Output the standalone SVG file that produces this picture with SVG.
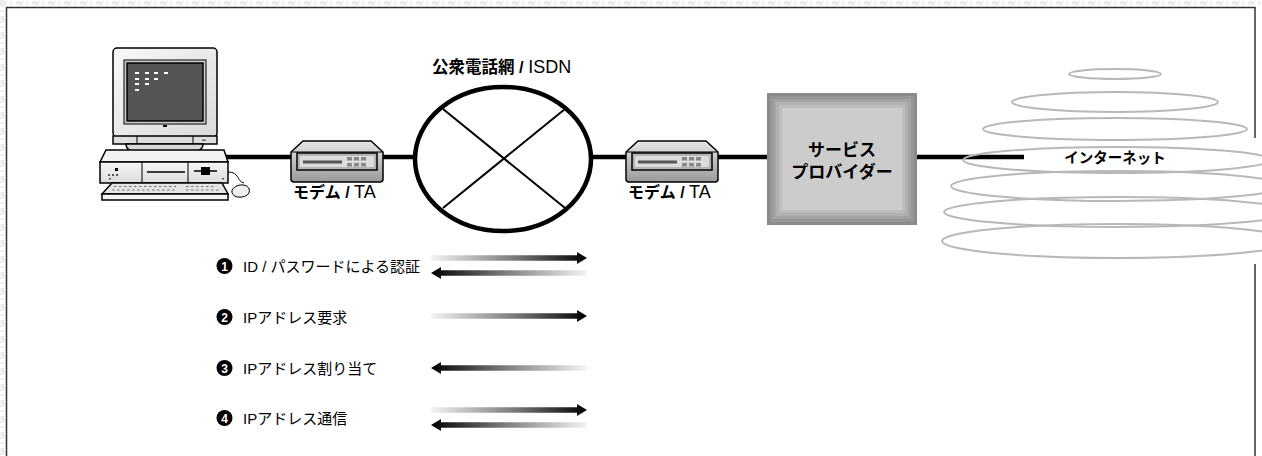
<svg xmlns="http://www.w3.org/2000/svg" width="1262" height="456" viewBox="0 0 1262 456">
  <style>
    .jp { font-family: "Liberation Sans", "Noto Sans CJK JP", sans-serif; fill: #000; }
    .b { font-weight: bold; }
    .link { stroke: #000; stroke-width: 4.5; fill: none; }
    .ol { stroke: #000; stroke-width: 1.5; }
    .cloud { fill: none; stroke: #b8b8b8; stroke-width: 2; }
    .num { font-family: "Liberation Sans", sans-serif; font-weight: bold; font-size: 12px; fill: #fff; text-anchor: middle; }
  </style>
  <defs>
    <linearGradient id="gR" x1="0" y1="0" x2="1" y2="0">
      <stop offset="0" stop-color="#f4f4f4"/>
      <stop offset="0.55" stop-color="#777"/>
      <stop offset="1" stop-color="#000"/>
    </linearGradient>
    <linearGradient id="modemBody" x1="0" y1="0" x2="0" y2="1">
      <stop offset="0" stop-color="#e6e6e6"/>
      <stop offset="1" stop-color="#9a9a9a"/>
    </linearGradient>
    <linearGradient id="caseFill" x1="0" y1="0" x2="0" y2="1">
      <stop offset="0" stop-color="#f6f6f6"/>
      <stop offset="1" stop-color="#dcdcdc"/>
    </linearGradient>
    <linearGradient id="monitorFill" x1="0" y1="0" x2="1" y2="1">
      <stop offset="0" stop-color="#f8f8f8"/>
      <stop offset="1" stop-color="#dadada"/>
    </linearGradient>
    <path id="arrowR" d="M0,-2.75 H146 V-6 L156,0 L146,6 V2.75 H0 Z"/>
    <g id="modem">
      <path d="M12,0 H80 L92,11 V38 Q92,41 89,41 H3 Q0,41 0,38 V11 Z" fill="url(#modemBody)" class="ol"/>
      <path d="M0,11 H92" stroke="#000" stroke-width="1"/>
      <rect x="6" y="12" width="80" height="17" fill="#b4b4b4" class="ol"/>
      <rect x="9" y="15" width="74" height="11" fill="#dcdcdc"/>
      <rect x="12" y="19.5" width="39" height="3" fill="#555"/>
      <g fill="#888">
        <rect x="56" y="16" width="5" height="3.5"/>
        <rect x="63" y="16" width="5" height="3.5"/>
        <rect x="70" y="16" width="5" height="3.5"/>
        <rect x="56" y="22" width="5" height="3.5"/>
        <rect x="63" y="22" width="5" height="3.5"/>
        <rect x="70" y="22" width="5" height="3.5"/>
      </g>
    </g>
  </defs>

  <!-- page background and frame -->
  <rect width="1262" height="456" fill="#fff"/>
  <line x1="0" y1="3" x2="1262" y2="3" stroke="#ececec" stroke-width="4" stroke-dasharray="7 3 2 4"/>
  <line x1="2.5" y1="0" x2="2.5" y2="456" stroke="#ececec" stroke-width="4" stroke-dasharray="7 3 2 4"/>
  <rect x="6.5" y="7.5" width="1248.5" height="460" fill="none" stroke="#333" stroke-width="1.5"/>

  <!-- connectors -->
  <g id="connectors">
    <line class="link" x1="226" y1="157" x2="291" y2="157"/>
    <line class="link" x1="383" y1="157" x2="415" y2="157"/>
    <line class="link" x1="591" y1="157" x2="626" y2="157"/>
    <line class="link" x1="718" y1="157" x2="767" y2="157"/>
    <line class="link" x1="917" y1="157" x2="1024" y2="157"/>
  </g>

  <!-- personal computer -->
  <g id="pc">
    <!-- monitor -->
    <rect x="113" y="48" width="104" height="89" rx="4" fill="url(#monitorFill)" class="ol"/>
    <rect x="124" y="60" width="82" height="64" fill="#cfcfcf" stroke="#000" stroke-width="1"/>
    <rect x="127" y="63" width="76" height="58" fill="#555" class="ol"/>
    <g fill="#fff">
      <rect x="135" y="72" width="4" height="2"/>
      <rect x="145" y="72" width="4" height="2"/>
      <rect x="154" y="72" width="4" height="2"/>
      <rect x="164" y="72" width="4" height="2"/>
      <rect x="135" y="78" width="4" height="2"/>
      <rect x="145" y="78" width="4" height="2"/>
      <rect x="154" y="78" width="4" height="2"/>
      <rect x="135" y="83" width="4" height="2"/>
      <rect x="145" y="83" width="4" height="2"/>
      <rect x="135" y="89" width="4" height="2"/>
    </g>
    <rect x="163" y="125" width="4" height="2" fill="#000"/>
    <rect x="113" y="136" width="104" height="8" fill="#dedede" class="ol"/>
    <line x1="137" y1="136" x2="137" y2="144" stroke="#000"/>
    <line x1="193" y1="136" x2="193" y2="144" stroke="#000"/>
    <rect x="202" y="139.5" width="4" height="1.5" fill="#666"/>
    <path d="M126,144 H203 Q203,153 185,153 H144 Q126,153 126,144 Z" fill="#d8d8d8" class="ol"/>
    <!-- system unit -->
    <path d="M106,150 H224 L228,162 H100 Z" fill="#f2f2f2" class="ol"/>
    <rect x="100" y="162" width="128" height="21" fill="url(#caseFill)" class="ol"/>
    <line x1="142" y1="162" x2="142" y2="183" stroke="#000"/>
    <line x1="188" y1="162" x2="188" y2="183" stroke="#000"/>
    <line x1="147" y1="172" x2="185" y2="172" stroke="#000" stroke-width="1.5"/>
    <line x1="194" y1="171" x2="217" y2="171" stroke="#000" stroke-width="1.5"/>
    <rect x="201" y="167" width="9" height="8" fill="#000"/>
    <rect x="115" y="168" width="3" height="3" fill="#000"/>
    <g fill="#555">
      <rect x="108" y="174" width="2" height="2"/>
      <rect x="112" y="174" width="2" height="2"/>
      <rect x="116" y="174" width="2" height="2"/>
      <rect x="109" y="178" width="2" height="1.5"/>
      <rect x="222" y="178" width="2" height="1.5"/>
    </g>
    <!-- mouse and cable -->
    <path d="M228,172 C240,172 236,181 244,183" fill="none" stroke="#000" stroke-width="1"/>
    <path d="M232,190 Q236,184 244,185 Q251,187 249,193 Q246,198 237,197 Q231,195 232,190 Z" fill="#eee" stroke="#000" stroke-width="1"/>
    <!-- keyboard -->
    <path d="M112,183 H222 L228,194 H102 Z" fill="#e4e4e4" class="ol"/>
    <rect x="102" y="194" width="126" height="6" fill="#f4f4f4" class="ol"/>
    <g stroke="#777" stroke-width="1.2" stroke-dasharray="2.5 2.5">
      <line x1="114" y1="186.5" x2="176" y2="186.5"/>
      <line x1="112" y1="190" x2="176" y2="190"/>
      <line x1="186" y1="186.5" x2="216" y2="186.5"/>
      <line x1="186" y1="190" x2="219" y2="190"/>
    </g>
  </g>

  <!-- modem / TA, caller side -->
  <g id="modem-left">
    <use href="#modem" x="291" y="141"/>
    <text class="jp" x="293" y="198" font-size="16"><tspan class="b">モデム /</tspan> <tspan font-size="18">TA</tspan></text>
  </g>

  <!-- public telephone network / ISDN -->
  <g id="pstn">
    <ellipse cx="503" cy="159" rx="88" ry="72" fill="#fff" stroke="#000" stroke-width="4.5"/>
    <line x1="443" y1="109" x2="565" y2="208" stroke="#000" stroke-width="2"/>
    <line x1="565" y1="109" x2="443" y2="208" stroke="#000" stroke-width="2"/>
    <text class="jp" x="432" y="73" font-size="16.5"><tspan class="b">公衆電話網 /</tspan> <tspan font-size="18">ISDN</tspan></text>
  </g>

  <!-- modem / TA, provider side -->
  <g id="modem-right">
    <use href="#modem" x="626" y="141"/>
    <text class="jp" x="628" y="198" font-size="16"><tspan class="b">モデム /</tspan> <tspan font-size="18">TA</tspan></text>
  </g>

  <!-- service provider -->
  <g id="provider">
    <rect x="767" y="93" width="150" height="132" fill="#8a8a8a"/>
    <rect x="770" y="96" width="144" height="126" fill="#969696"/>
    <rect x="773" y="99" width="138" height="120" fill="#a3a3a3"/>
    <rect x="776" y="102" width="132" height="114" fill="#b0b0b0"/>
    <rect x="779" y="105" width="126" height="108" fill="#bdbdbd"/>
    <rect x="782" y="108" width="120" height="102" fill="#cccccc"/>
    <text class="jp b" x="842" y="156" font-size="17" text-anchor="middle">サービス</text>
    <text class="jp b" x="842" y="178" font-size="17" text-anchor="middle">プロバイダー</text>
  </g>

  <!-- internet -->
  <g id="internet">
    <rect x="1249" y="138" width="13" height="126" fill="#fff"/>
    <ellipse class="cloud" cx="1115" cy="74" rx="46" ry="5"/>
    <ellipse class="cloud" cx="1115" cy="102" rx="103" ry="10"/>
    <ellipse class="cloud" cx="1115" cy="129" rx="132" ry="11"/>
    <ellipse class="cloud" cx="1117" cy="160" rx="154" ry="13"/>
    <ellipse class="cloud" cx="1117" cy="186" rx="166" ry="15"/>
    <ellipse class="cloud" cx="1117" cy="212" rx="173" ry="15"/>
    <ellipse class="cloud" cx="1117" cy="241" rx="175" ry="17"/>
    <text class="jp b" x="1115" y="163" font-size="14.5" text-anchor="middle">インターネット</text>
  </g>

  <!-- sequence legend -->
  <g id="step1">
    <circle cx="224.5" cy="266" r="8" fill="#000"/>
    <text class="num" x="224.5" y="270.5">1</text>
    <text class="jp" x="243" y="271.5" font-size="15">ID / パスワードによる認証</text>
    <use href="#arrowR" x="431" y="258" fill="url(#gR)"/>
    <use href="#arrowR" transform="translate(587,273) scale(-1,1)" fill="url(#gR)"/>
  </g>
  <g id="step2">
    <circle cx="224.5" cy="317" r="8" fill="#000"/>
    <text class="num" x="224.5" y="321.5">2</text>
    <text class="jp" x="243" y="322.5" font-size="15">IPアドレス要求</text>
    <use href="#arrowR" x="431" y="316" fill="url(#gR)"/>
  </g>
  <g id="step3">
    <circle cx="224.5" cy="368" r="8" fill="#000"/>
    <text class="num" x="224.5" y="372.5">3</text>
    <text class="jp" x="243" y="373.5" font-size="15">IPアドレス割り当て</text>
    <use href="#arrowR" transform="translate(587,368) scale(-1,1)" fill="url(#gR)"/>
  </g>
  <g id="step4">
    <circle cx="224.5" cy="418" r="8" fill="#000"/>
    <text class="num" x="224.5" y="422.5">4</text>
    <text class="jp" x="243" y="423.5" font-size="15">IPアドレス通信</text>
    <use href="#arrowR" x="431" y="410" fill="url(#gR)"/>
    <use href="#arrowR" transform="translate(587,425) scale(-1,1)" fill="url(#gR)"/>
  </g>
</svg>
